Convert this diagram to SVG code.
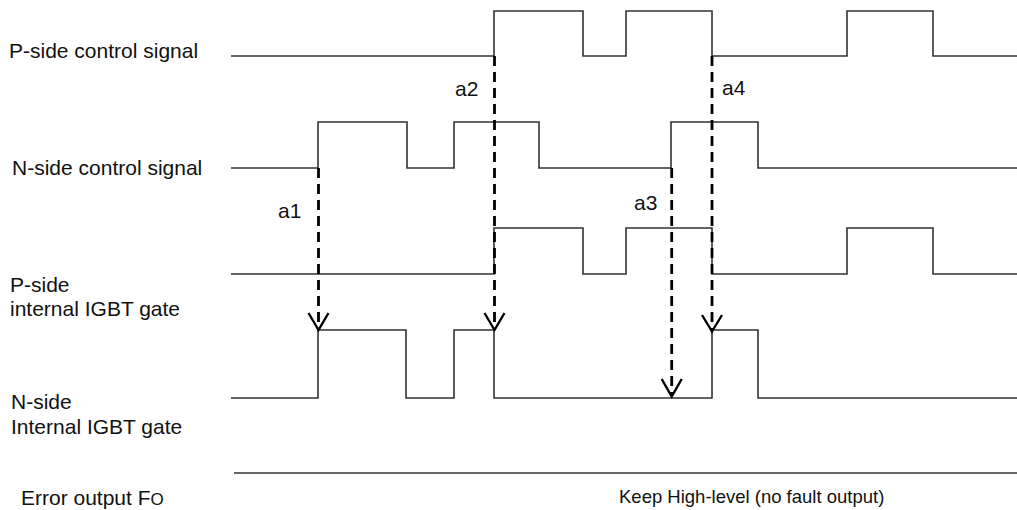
<svg xmlns="http://www.w3.org/2000/svg" width="1017" height="510" viewBox="0 0 1017 510">
<style>
text{font-family:"Liberation Sans",Arial,sans-serif;font-size:21px;fill:#111}
.sig{fill:none;stroke:#333;stroke-width:1.6}
.dash{fill:none;stroke:#000;stroke-width:2.8;stroke-dasharray:10 6}
.head{fill:none;stroke:#000;stroke-width:2.4}
</style>
<rect width="1017" height="510" fill="#fff"/>
<g id="p-ctrl">
<text x="9" y="58">P-side control signal</text>
<path class="sig" d="M231,56 H494 V11 H583 V56 H626 V11 H712 V56 H847 V11 H933 V56 H1017"/>
</g>
<g id="n-ctrl">
<text x="12" y="175">N-side control signal</text>
<path class="sig" d="M231,168 H318 V122 H407 V168 H454 V122 H539 V168 H671 V122 H758 V168 H1017"/>
</g>
<g id="p-gate">
<text x="10" y="292">P-side</text>
<text x="10" y="316">internal IGBT gate</text>
<path class="sig" d="M231,274 H494 V228 H583 V274 H626 V228 H712 V274 H847 V228 H933 V274 H1017"/>
</g>
<g id="n-gate">
<text x="11" y="409">N-side</text>
<text x="11" y="434">Internal IGBT gate</text>
<path class="sig" d="M231,398 H318 V330 H406 V398 H454 V330 H494 V398 H712 V330 H758 V398 H1017"/>
</g>
<g id="fo">
<text x="21" y="505">Error output F<tspan font-size="17">O</tspan></text>
<path class="sig" d="M234,473 H1017"/>
<text x="619" y="503" font-size="18.5" style="font-size:18.5px">Keep High-level (no fault output)</text>
</g>
<g id="connectors">
<line class="dash" x1="318.5" y1="168" x2="318.5" y2="328"/>
<polyline class="head" points="308.5,313 318.5,330 328.5,313"/>
<text x="278" y="218">a1</text>
<line class="dash" x1="494.5" y1="56" x2="494.5" y2="328"/>
<polyline class="head" points="484.5,313 494.5,330 504.5,313"/>
<text x="455" y="96">a2</text>
<line class="dash" x1="671.7" y1="168" x2="671.7" y2="394"/>
<polyline class="head" points="661.7,379 671.7,396.5 681.7,379"/>
<text x="634" y="210">a3</text>
<line class="dash" x1="712" y1="56" x2="712" y2="329"/>
<polyline class="head" points="702,315 712,331.5 722,315"/>
<text x="722" y="95">a4</text>
</g>
</svg>
